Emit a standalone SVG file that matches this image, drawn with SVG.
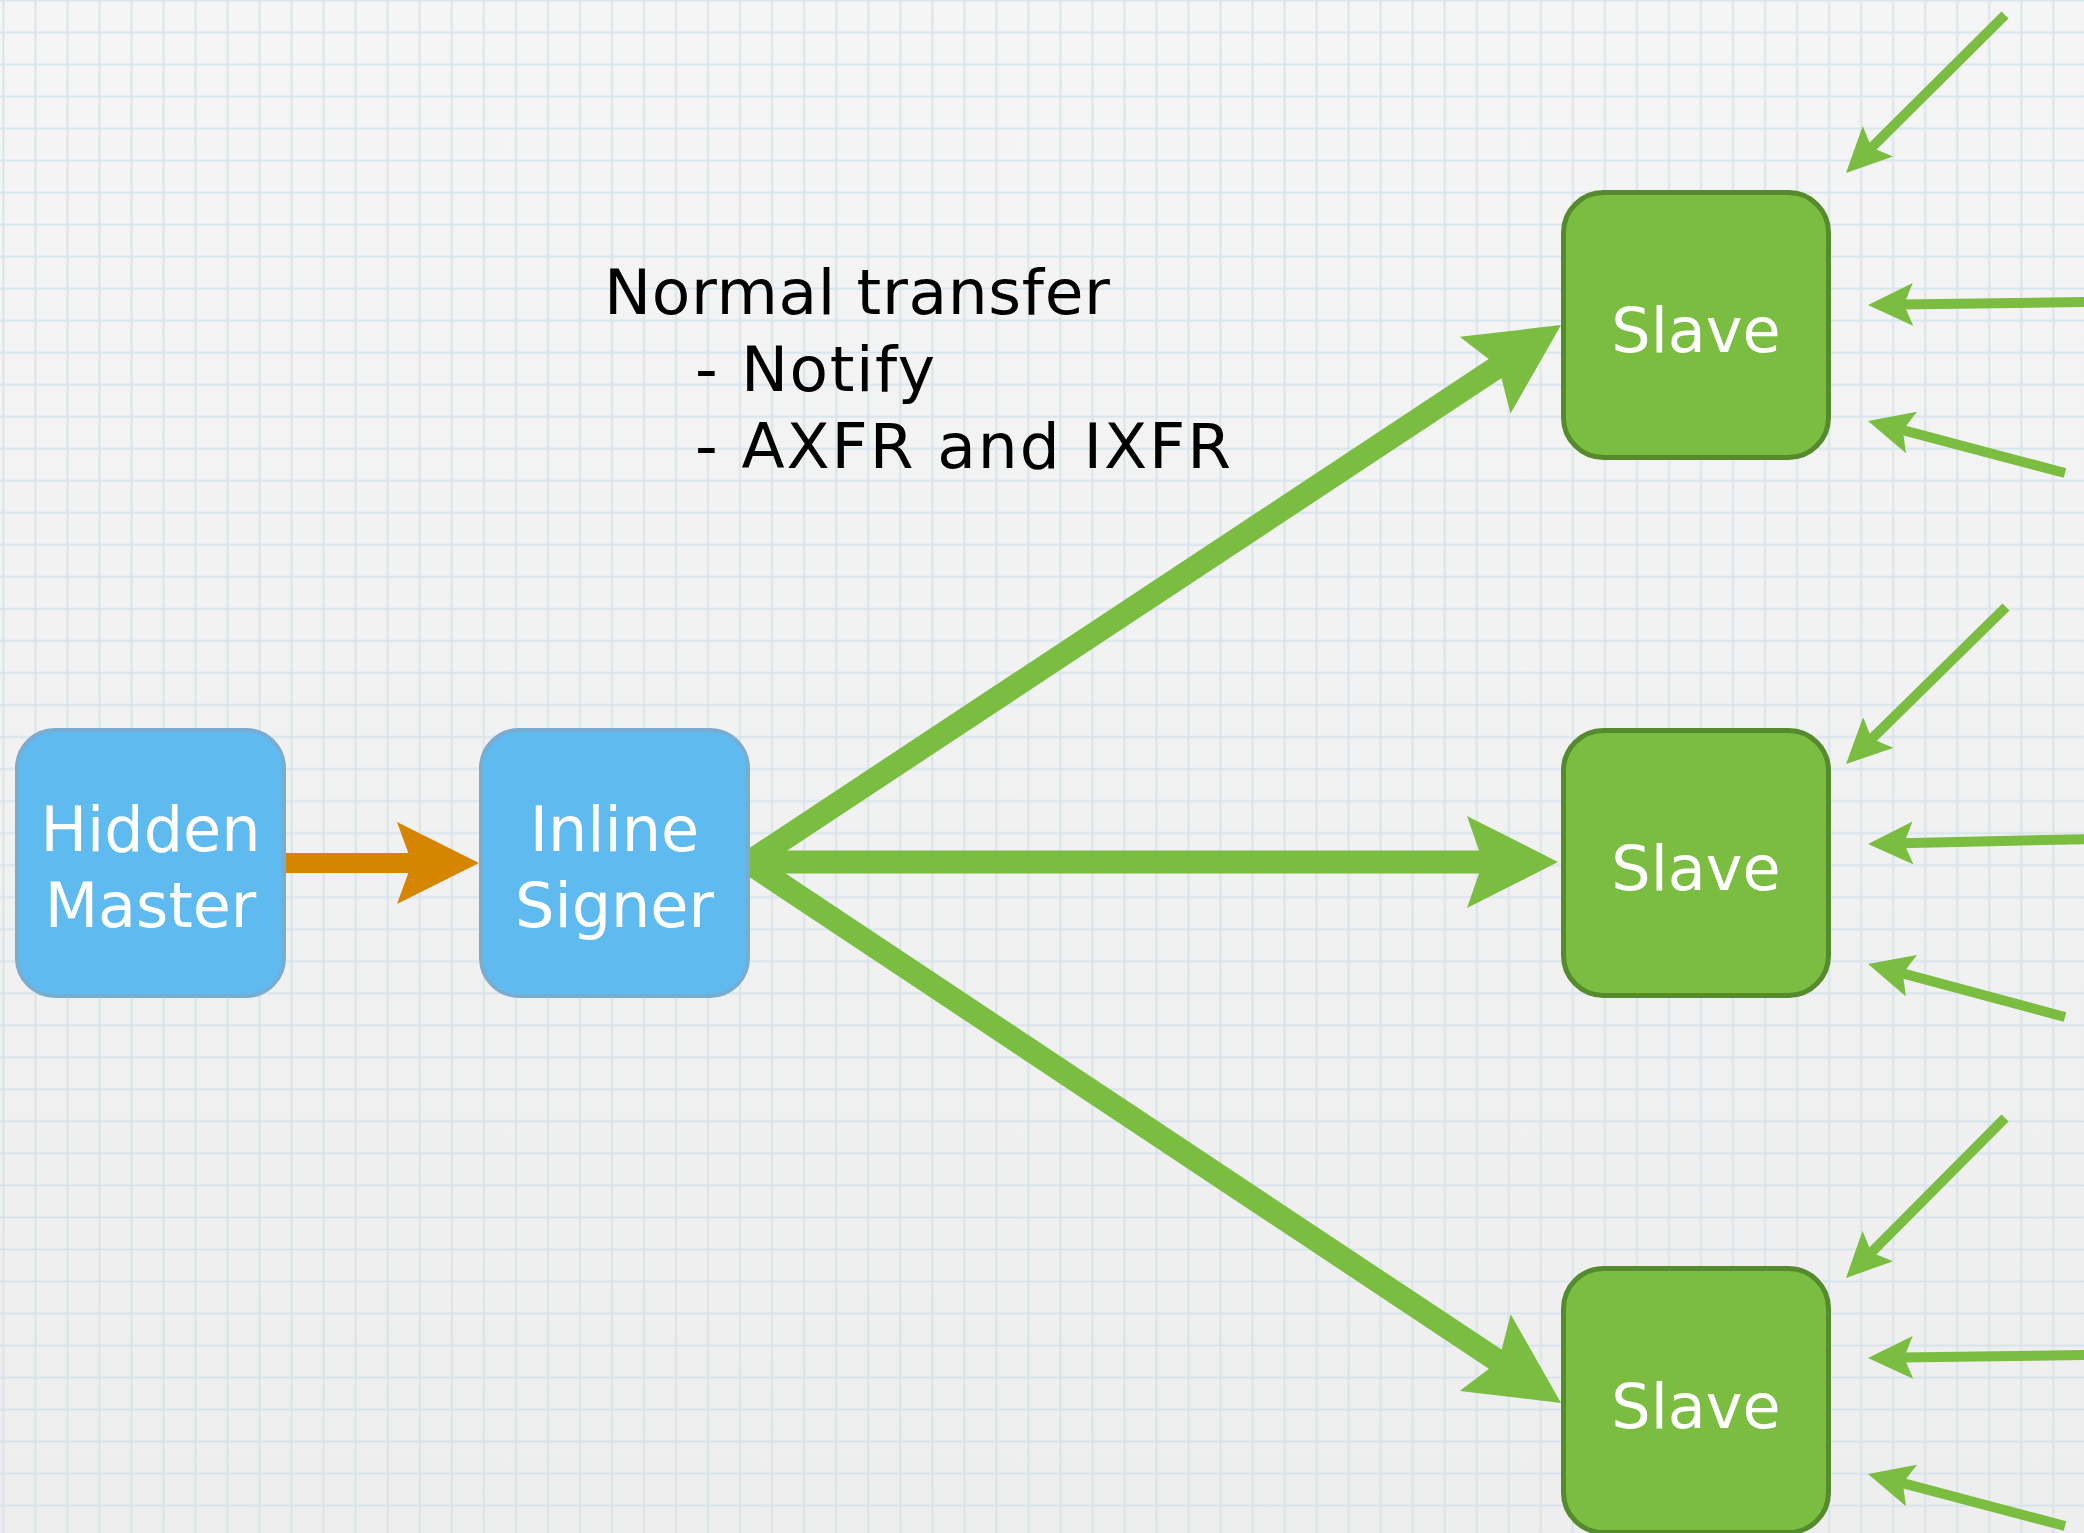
<svg xmlns="http://www.w3.org/2000/svg" width="2084" height="1533" viewBox="0 0 2084 1533">
  <style>
    .blue rect { fill: #5fbbef; stroke: #79acd1; stroke-width: 4; }
    .green rect { fill: #7abd41; stroke: #558a2d; stroke-width: 5; }
    .ntext { font-family: "DejaVu Sans", Verdana, sans-serif; font-size: 62px; fill: #ffffff; text-anchor: middle; }
    .label { font-family: "DejaVu Sans", Verdana, sans-serif; font-size: 63px; fill: #000000; }
    .big { stroke: #7abd41; stroke-width: 23; fill: none; marker-end: url(#headL); }
    .small { stroke: #7abd41; stroke-width: 10; fill: none; marker-end: url(#headS); }
    .orange { stroke: #d58500; stroke-width: 20; fill: none; marker-end: url(#headO); }
  </style>
  <defs>
    <linearGradient id="bg" x1="0" y1="0" x2="0" y2="1">
      <stop offset="0" stop-color="#f5f5f5"/>
      <stop offset="1" stop-color="#eeeeee"/>
    </linearGradient>
    <pattern id="grid" patternUnits="userSpaceOnUse" x="-12.6" y="-15.7" width="32.03" height="32.03">
      <path d="M16.015,0 V32.03 M0,16.015 H32.03" stroke="#d3e2ea" stroke-width="2" fill="none" opacity="0.85"/>
    </pattern>
    <marker id="headL" markerUnits="userSpaceOnUse" markerWidth="92" markerHeight="92" refX="20" refY="46" orient="auto">
      <path d="M0,0 L91,46 L0,92 L16,46 Z" fill="#7abd41"/>
    </marker>
    <marker id="headS" markerUnits="userSpaceOnUse" markerWidth="46" markerHeight="44" refX="12" refY="21.5" orient="auto">
      <path d="M0,0 L45,21.5 L0,43 L9,21.5 Z" fill="#7abd41"/>
    </marker>
    <marker id="headO" markerUnits="userSpaceOnUse" markerWidth="83" markerHeight="82" refX="18" refY="41" orient="auto">
      <path d="M0,0 L82,41 L0,82 L15,41 Z" fill="#d58500"/>
    </marker>
  </defs>

  <rect x="0" y="0" width="2084" height="1533" fill="url(#bg)"/>
  <rect x="0" y="0" width="2084" height="1533" fill="url(#grid)"/>

  <g id="label">
    <text class="label" x="604" y="314" textLength="506" lengthAdjust="spacing">Normal transfer</text>
    <text class="label" x="695" y="391" textLength="240" lengthAdjust="spacing" xml:space="preserve">- Notify</text>
    <text class="label" x="695" y="468" textLength="536" lengthAdjust="spacing" xml:space="preserve">- AXFR and IXFR</text>
  </g>

  <g id="connectors">
    <path class="orange" d="M280,863 L415,863"/>
    <path class="big" d="M740.7,867.5 L1501.8,364.2"/>
    <path class="big" d="M740,862 L1487,862"/>
    <path class="big" d="M740.7,857.5 L1501.9,1363.7"/>

    <path class="small" d="M2005,15 L1869.4,149.7"/>
    <path class="small" d="M2090,302 L1901,304.6"/>
    <path class="small" d="M2065,473 L1899.9,429.4"/>

    <path class="small" d="M2006,607 L1869.6,740.9"/>
    <path class="small" d="M2090,839 L1901,843.3"/>
    <path class="small" d="M2065,1017 L1899.9,972.6"/>

    <path class="small" d="M2005,1118 L1869.3,1254.6"/>
    <path class="small" d="M2090,1355 L1901,1357.6"/>
    <path class="small" d="M2065,1526 L1899.9,1482.4"/>
  </g>

  <g id="hidden-master" class="blue">
    <rect x="17" y="730" width="267" height="266" rx="38" ry="38"/>
    <text class="ntext" x="150.5" y="851">Hidden</text>
    <text class="ntext" x="150.5" y="927">Master</text>
  </g>

  <g id="inline-signer" class="blue">
    <rect x="481" y="730" width="267" height="266" rx="38" ry="38"/>
    <text class="ntext" x="614.5" y="851">Inline</text>
    <text class="ntext" x="614.5" y="927">Signer</text>
  </g>

  <g id="slave-1" class="green">
    <rect x="1563.5" y="192.5" width="265" height="265" rx="40" ry="40"/>
    <text class="ntext" x="1696" y="352">Slave</text>
  </g>

  <g id="slave-2" class="green">
    <rect x="1563.5" y="730.5" width="265" height="265" rx="40" ry="40"/>
    <text class="ntext" x="1696" y="890">Slave</text>
  </g>

  <g id="slave-3" class="green">
    <rect x="1563.5" y="1268.5" width="265" height="264" rx="40" ry="40"/>
    <text class="ntext" x="1696" y="1428">Slave</text>
  </g>
</svg>
